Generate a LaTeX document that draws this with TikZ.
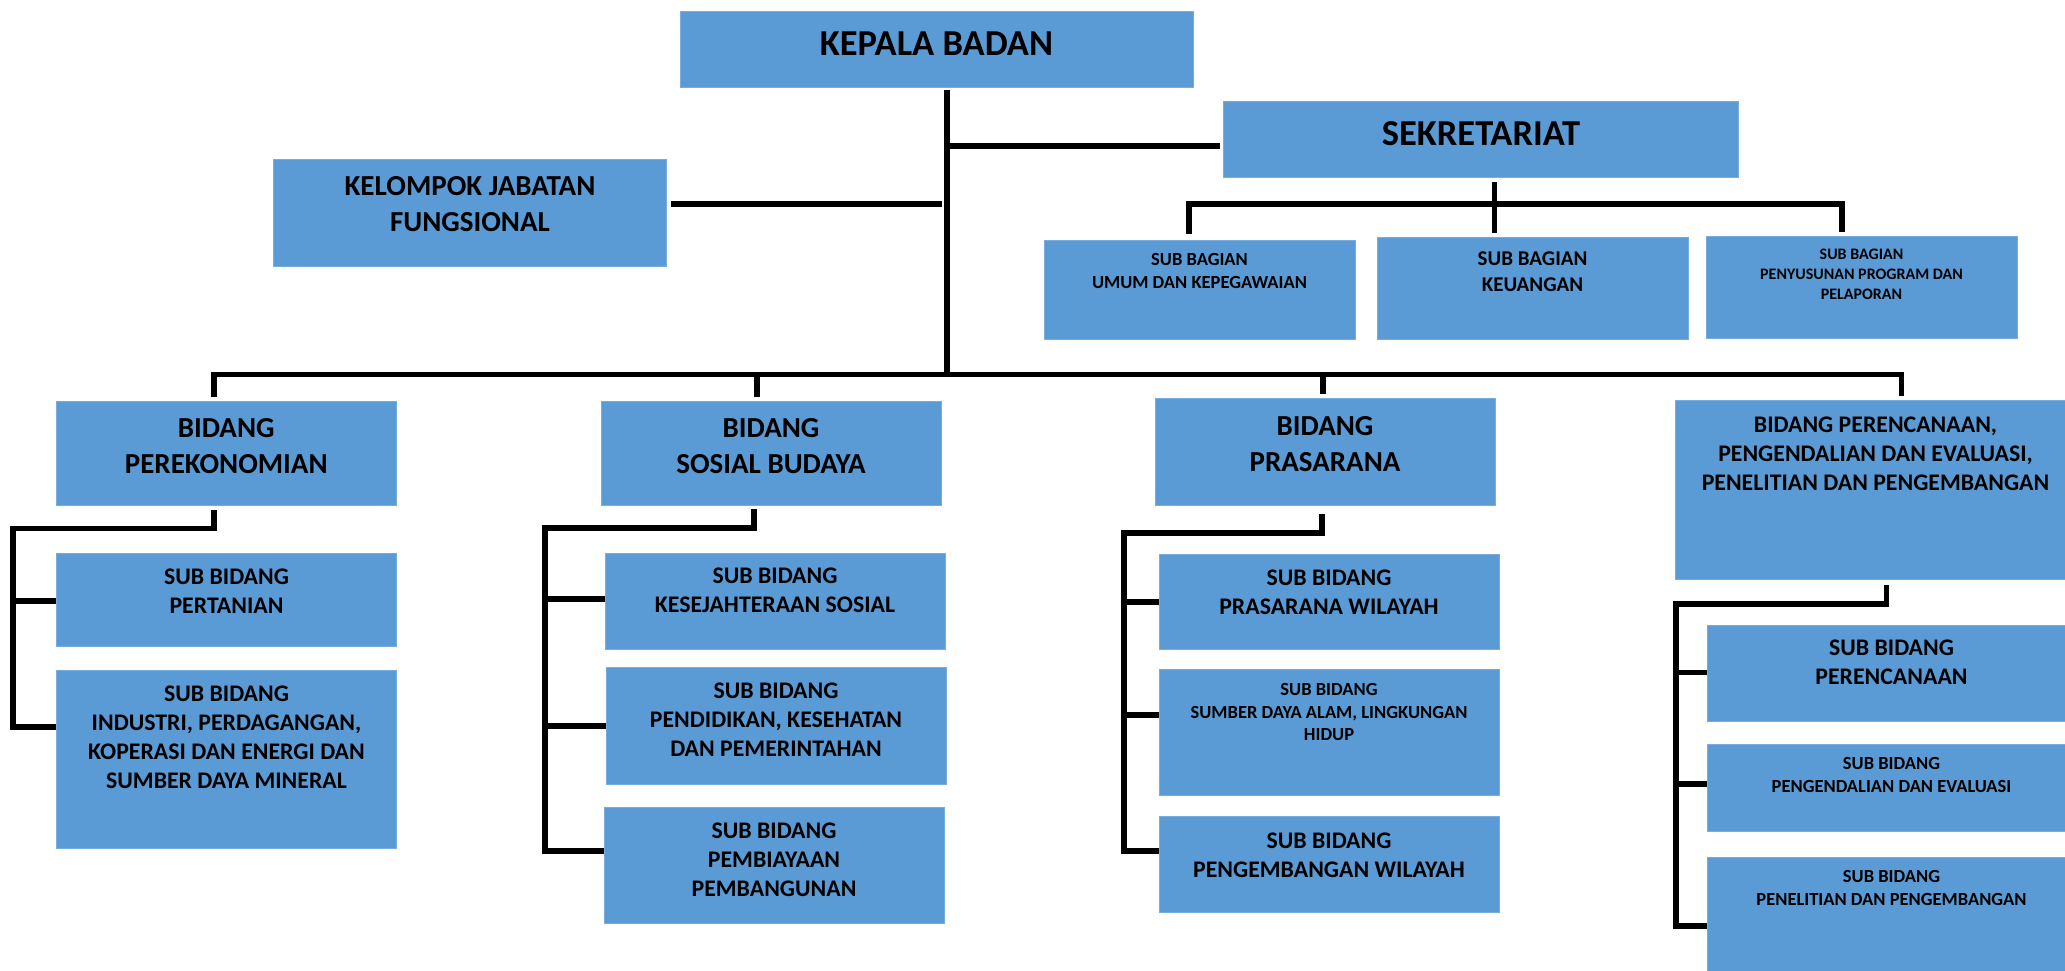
\documentclass[tikz,border=0pt]{standalone}
\usepackage{fontspec}
\setmainfont{Carlito}
\usepackage{tikz}
\usetikzlibrary{positioning}
\definecolor{org-blue}{RGB}{91, 155, 213}
\definecolor{org-edge}{RGB}{120, 172, 222}
\newcommand{\szhead}{\fontsize{36.5}{44}\selectfont\bfseries}
\newcommand{\szbid}{\fontsize{29}{35.5}\selectfont\bfseries}
\newcommand{\szsub}{\fontsize{23.8}{29}\selectfont\bfseries}
\newcommand{\szmid}{\fontsize{21}{26}\selectfont\bfseries}
\newcommand{\szsmall}{\fontsize{18.5}{22.7}\selectfont\bfseries}
\newcommand{\sztiny}{\fontsize{16}{20}\selectfont\bfseries}

\begin{document}
\begin{tikzpicture}[
        x=1pt, y=-1pt,
        box/.style={rectangle, fill=org-blue, draw=org-edge, line width=0.8pt, inner sep=0pt},
        dims/.style 2 args={minimum width=#1pt, minimum height=#2pt},
        lbl/.style={inner sep=0pt, align=center, text=black},
        link/.style={draw=black, line width=5.4pt, line join=miter}
    ]
        \useasboundingbox (0,0) rectangle (2065,971);
        \clip (0,0) rectangle (2065,971);

        % Top level
        \node[box, dims={513}{76}] (kepala) at (936.5,49) {};
        \node[lbl, font=\szhead, below=21pt of kepala.north] (tkepala) {KEPALA BADAN};
        \node[box, dims={515}{76}] (sek) at (1481,139.7) {};
        \node[lbl, font=\szhead, below=20pt of sek.north] (tsek) {SEKRETARIAT};
        \node[box, dims={393}{107.7}] (kjf) at (470,212.8) {};
        \node[lbl, font=\szbid, below=18pt of kjf.north] (tkjf) {KELOMPOK JABATAN\\FUNGSIONAL};

        % Sub bagian
        \node[box, dims={311}{99}] (umum) at (1199.5,289.5) {};
        \node[lbl, font=\szsmall, below=14pt of umum.north] (tumum) {SUB BAGIAN\\UMUM DAN KEPEGAWAIAN};
        \node[box, dims={311}{102}] (keu) at (1532.5,288) {};
        \node[lbl, font=\szmid, below=15pt of keu.north] (tkeu) {SUB BAGIAN\\KEUANGAN};
        \node[box, dims={311}{102}] (peny) at (1861.5,287) {};
        \node[lbl, font=\sztiny, below=13pt of peny.north] (tpeny) {SUB BAGIAN\\PENYUSUNAN PROGRAM DAN\\PELAPORAN};

        % Bidang
        \node[box, dims={340.5}{104.5}] (bperek) at (226.25,453.25) {};
        \node[lbl, font=\szbid, below=18pt of bperek.north] (tbperek) {BIDANG\\PEREKONOMIAN};
        \node[box, dims={340}{104}] (bsosial) at (771,453) {};
        \node[lbl, font=\szbid, below=18pt of bsosial.north] (tbsosial) {BIDANG\\SOSIAL BUDAYA};
        \node[box, dims={340}{107.5}] (bpras) at (1325,451.75) {};
        \node[lbl, font=\szbid, below=19pt of bpras.north] (tbpras) {BIDANG\\PRASARANA};
        \node[box, dims={401}{179}] (bperenc) at (1875.5,489.5) {};
        \node[lbl, font=\szsub, below=17pt of bperenc.north] (tbperenc) {BIDANG PERENCANAAN,\\PENGENDALIAN DAN EVALUASI,\\PENELITIAN DAN PENGEMBANGAN};

        % Sub bidang
        \node[box, dims={340}{93.5}] (spert) at (226.5,599.75) {};
        \node[lbl, font=\szsub, below=16pt of spert.north] (tspert) {SUB BIDANG\\PERTANIAN};
        \node[box, dims={340}{178}] (sind) at (226.5,759) {};
        \node[lbl, font=\szsub, below=16pt of sind.north] (tsind) {SUB BIDANG\\INDUSTRI, PERDAGANGAN,\\KOPERASI DAN ENERGI DAN\\SUMBER DAYA MINERAL};
        \node[box, dims={340}{96}] (skes) at (775,601) {};
        \node[lbl, font=\szsub, below=15.5pt of skes.north] (tskes) {SUB BIDANG\\KESEJAHTERAAN SOSIAL};
        \node[box, dims={340}{117}] (spend) at (776,725.5) {};
        \node[lbl, font=\szsub, below=15.7pt of spend.north] (tspend) {SUB BIDANG\\PENDIDIKAN, KESEHATAN\\DAN PEMERINTAHAN};
        \node[box, dims={340}{116.5}] (spemb) at (774,865.25) {};
        \node[lbl, font=\szsub, below=16pt of spemb.north] (tspemb) {SUB BIDANG\\PEMBIAYAAN\\PEMBANGUNAN};
        \node[box, dims={340}{95}] (spw) at (1329,602) {};
        \node[lbl, font=\szsub, below=15.5pt of spw.north] (tspw) {SUB BIDANG\\PRASARANA WILAYAH};
        \node[box, dims={340}{126}] (ssda) at (1329,732) {};
        \node[lbl, font=\szsmall, below=14.4pt of ssda.north] (tssda) {SUB BIDANG\\SUMBER DAYA ALAM, LINGKUNGAN\\HIDUP};
        \node[box, dims={340}{95.5}] (spengw) at (1329,864.25) {};
        \node[lbl, font=\szsub, below=16.5pt of spengw.north] (tspengw) {SUB BIDANG\\PENGEMBANGAN WILAYAH};
        \node[box, dims={369}{96}] (sperenc) at (1891.5,673) {};
        \node[lbl, font=\szsub, below=15pt of sperenc.north] (tsperenc) {SUB BIDANG\\PERENCANAAN};
        \node[box, dims={369}{87.5}] (speng) at (1891.5,787.75) {};
        \node[lbl, font=\szsmall, below=14pt of speng.north] (tspeng) {SUB BIDANG\\PENGENDALIAN DAN EVALUASI};
        \node[box, dims={369}{133}] (spenel) at (1891.5,923.5) {};
        \node[lbl, font=\szsmall, below=14pt of spenel.north] (tspenel) {SUB BIDANG\\PENELITIAN DAN PENGEMBANGAN};

        % Junction points
        \coordinate (hub) at (947,90);
        \coordinate (sj) at (947,146);
        \coordinate (kj) at (942,204);
        \coordinate (bus) at (947,374.5);
        \coordinate (d1) at (214,374.5);
        \coordinate (d2) at (757,374.5);
        \coordinate (d3) at (1323,374.5);
        \coordinate (d4) at (1901.5,374.5);
        \coordinate (s0) at (1494.6,182);
        \coordinate (sb1) at (1189,204);
        \coordinate (sb3) at (1842,204);

        % Kepala badan to the rest
        \draw[link] (hub) -- (bus);
        \draw[link, shorten >=3pt] (sj) -- (sj -| sek.west);
        \draw[link, shorten >=4pt] (kj) -- (kj -| kjf.east);
        \draw[link, shorten <=4pt, shorten >=4pt] (d1 |- bperek.north) -- (d1) -- (d4) -- (d4 |- bperenc.north);
        \draw[link, shorten >=4pt] (d2) -- (d2 |- bsosial.north);
        \draw[link, shorten >=4pt] (d3) -- (d3 |- bpras.north);

        % Sekretariat branches
        \draw[link, shorten <=4pt, shorten >=4pt] (s0 |- sek.south) -- (s0 |- keu.north);
        \draw[link, shorten <=6pt, shorten >=4pt] (sb1 |- umum.north) -- (sb1) -- (sb3) -- (sb3 |- peny.north);

        % Perekonomian branches
        \coordinate (pa) at (214,528.5);
        \coordinate (pb) at (13,528.5);
        \coordinate (p1) at (13,601);
        \coordinate (p2) at (13,727);
        \draw[link, shorten <=4pt] (pa |- bperek.south) -- (pa) -- (pb) -- (p2) -- (p2 -| sind.west);
        \draw[link] (p1) -- (p1 -| spert.west);

        % Sosial budaya branches
        \coordinate (sa) at (754,528);
        \coordinate (sbb) at (545,528);
        \coordinate (q1) at (545,599);
        \coordinate (q2) at (545,726);
        \coordinate (q3) at (545,851);
        \draw[link, shorten <=4pt] (sa |- bsosial.south) -- (sa) -- (sbb) -- (q3) -- (q3 -| spemb.west);
        \draw[link] (q1) -- (q1 -| skes.west);
        \draw[link] (q2) -- (q2 -| spend.west);

        % Prasarana branches
        \coordinate (ra) at (1322,533);
        \coordinate (rb) at (1124,533);
        \coordinate (r1) at (1124,602);
        \coordinate (r2) at (1124,715);
        \coordinate (r3) at (1124,851);
        \draw[link, shorten <=8pt] (ra |- bpras.south) -- (ra) -- (rb) -- (r3) -- (r3 -| spengw.west);
        \draw[link] (r1) -- (r1 -| spw.west);
        \draw[link] (r2) -- (r2 -| ssda.west);

        % Perencanaan branches
        \coordinate (ea) at (1886.5,604);
        \coordinate (eb) at (1676,604);
        \coordinate (e1) at (1676,672.5);
        \coordinate (e2) at (1676,784);
        \coordinate (e3) at (1676,926);
        \draw[link, shorten <=6pt] (ea |- bperenc.south) -- (ea) -- (eb) -- (e3) -- (e3 -| spenel.west);
        \draw[link] (e1) -- (e1 -| sperenc.west);
        \draw[link] (e2) -- (e2 -| speng.west);
    \end{tikzpicture}
\end{document}
